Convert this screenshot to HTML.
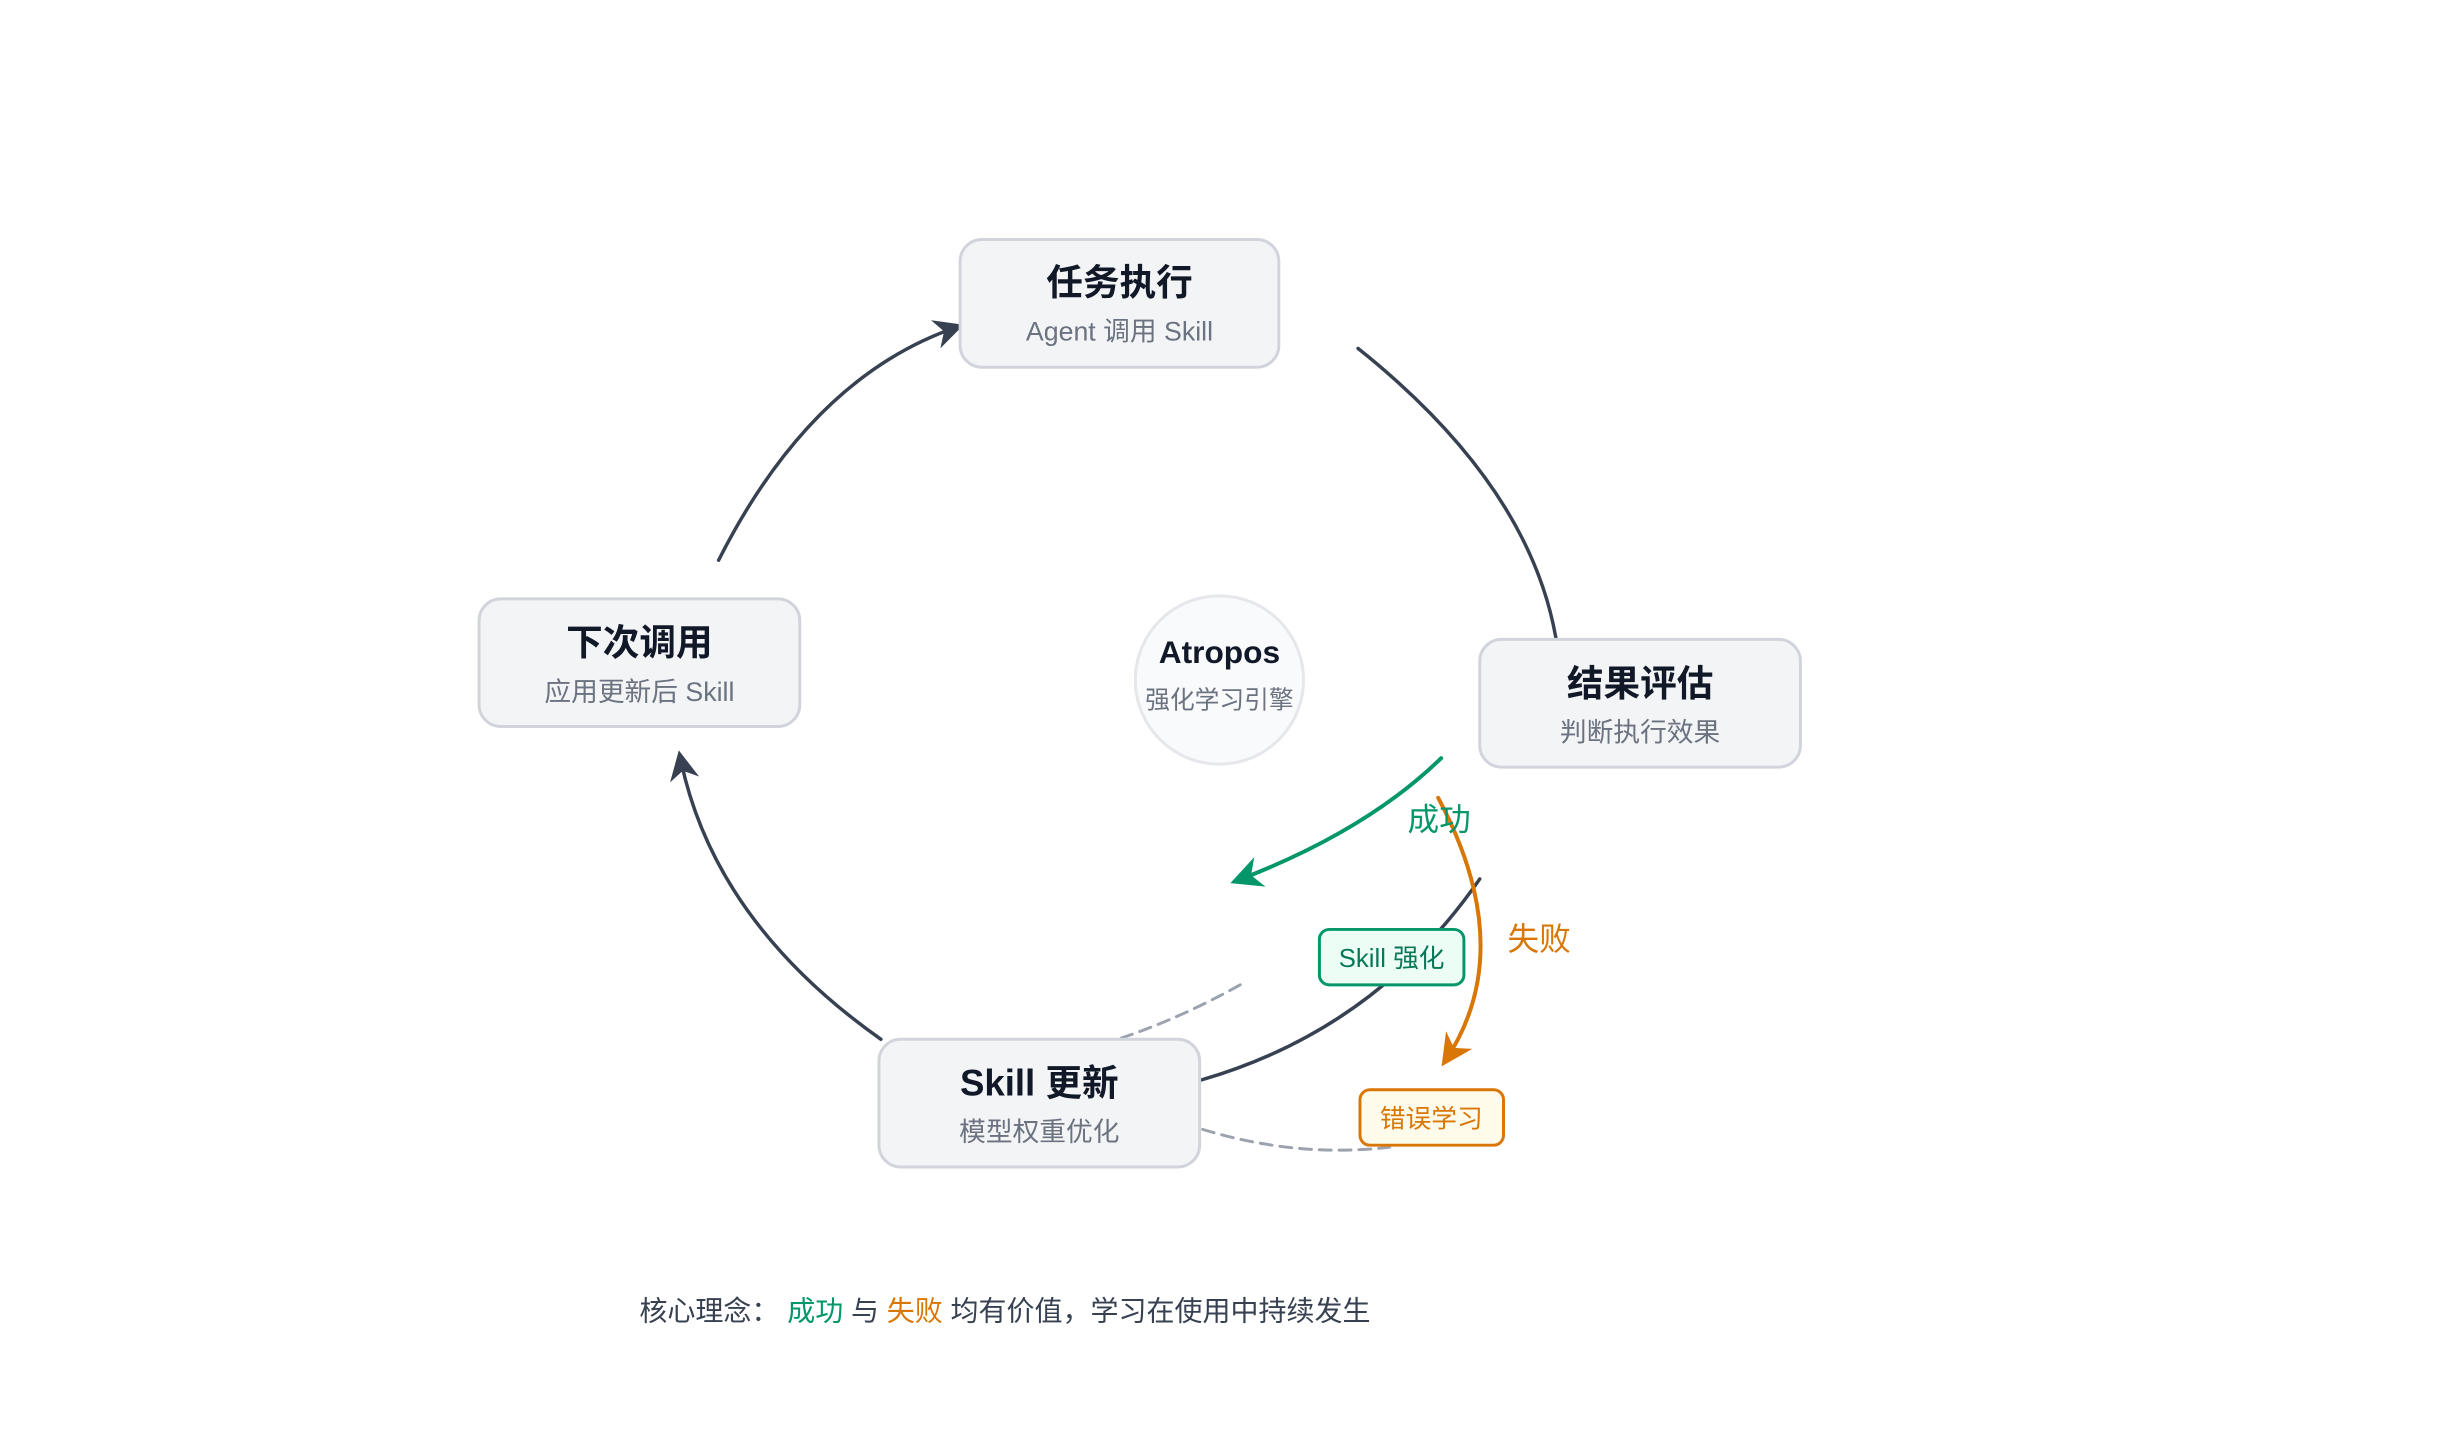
<!DOCTYPE html>
<html><head><meta charset="utf-8"><style>
html,body{margin:0;padding:0;background:#fff;}
svg{display:block;}
text{font-family:"Liberation Sans","Noto Sans CJK SC",sans-serif;}
</style></head><body>
<svg width="2440" height="1440" viewBox="0 0 2440 1440" xmlns="http://www.w3.org/2000/svg">
<defs>
<marker id="ad" markerWidth="30" markerHeight="30" refX="8" refY="5" orient="auto" markerUnits="userSpaceOnUse" viewBox="0 0 10 10"><path d="M0,0 L10,5 L0,10 L3,5 z" fill="#374151"/></marker>
<marker id="ag" markerWidth="32" markerHeight="32" refX="8" refY="5" orient="auto" markerUnits="userSpaceOnUse" viewBox="0 0 10 10"><path d="M0,0 L10,5 L0,10 L3,5 z" fill="#059669"/></marker>
<marker id="ao" markerWidth="32" markerHeight="32" refX="8" refY="5" orient="auto" markerUnits="userSpaceOnUse" viewBox="0 0 10 10"><path d="M0,0 L10,5 L0,10 L3,5 z" fill="#d97706"/></marker>
</defs>
<g transform="scale(0.9898)">
<g fill="none" stroke-width="3.5" stroke-linecap="round">
<path d="M726,566 Q820,380 968,330" stroke="#374151" marker-end="url(#ad)"/>
<path d="M1372,352 Q1545,490 1572,645" stroke="#374151"/>
<path d="M890,1050 Q720,930 687,764" stroke="#374151" marker-end="url(#ad)"/>
<path d="M1495,888 Q1390,1040 1214,1091" stroke="#374151"/>
<path d="M1253,995 Q1190,1030 1129,1050" stroke="#9ca3af" stroke-width="3" stroke-dasharray="12,8"/>
<path d="M1215,1141 Q1310,1170 1404,1159" stroke="#9ca3af" stroke-width="3" stroke-dasharray="12,8"/>
<path d="M1456,766 Q1380,840 1249,890" stroke="#059669" stroke-width="4" marker-end="url(#ag)"/>
<path d="M1453,806 Q1535,960 1460,1072" stroke="#d97706" stroke-width="4" marker-end="url(#ao)"/>
</g>
<g stroke="#d1d5db" stroke-width="3" fill="#f3f4f6">
<rect x="970" y="242" width="322" height="129" rx="22"/>
<rect x="484" y="605" width="324" height="129" rx="22"/>
<rect x="1495" y="646" width="324" height="129" rx="22"/>
<rect x="888" y="1050" width="324" height="129" rx="22"/>
</g>
<circle cx="1232" cy="687" r="85" fill="#f9fafb" stroke="#e5e7eb" stroke-width="3"/>
<g text-anchor="middle">
<text x="1131" y="298" font-size="37" font-weight="bold" fill="#111827">任务执行</text>
<text x="1131" y="344" font-size="27" fill="#6b7280">Agent 调用 Skill</text>
<text x="646" y="662" font-size="37" font-weight="bold" fill="#111827">下次调用</text>
<text x="646" y="708" font-size="27" fill="#6b7280">应用更新后 Skill</text>
<text x="1657" y="703" font-size="37" font-weight="bold" fill="#111827">结果评估</text>
<text x="1657" y="749" font-size="27" fill="#6b7280">判断执行效果</text>
<text x="1050" y="1107" font-size="37" font-weight="bold" fill="#111827">Skill 更新</text>
<text x="1050" y="1153" font-size="27" fill="#6b7280">模型权重优化</text>
<text x="1232" y="670" font-size="32" font-weight="bold" fill="#111827">Atropos</text>
<text x="1232" y="716" font-size="25" fill="#6b7280">强化学习引擎</text>
</g>
<rect x="1333" y="939" width="146" height="56" rx="10" fill="#ecfdf5" stroke="#059669" stroke-width="3"/>
<text x="1406" y="977" text-anchor="middle" font-size="26" fill="#047857">Skill 强化</text>
<rect x="1374" y="1101" width="145" height="56" rx="10" fill="#fffbeb" stroke="#d97706" stroke-width="3"/>
<text x="1446" y="1139" text-anchor="middle" font-size="26" fill="#d97706">错误学习</text>
<text x="1454" y="839" text-anchor="middle" font-size="32" fill="#059669">成功</text>
<text x="1555" y="960" text-anchor="middle" font-size="32" fill="#d97706">失败</text>
<text x="646" y="1334" font-size="28.3" fill="#374151">核心理念： <tspan fill="#059669">成功</tspan> 与 <tspan fill="#d97706">失败</tspan> 均有价值，学习在使用中持续发生</text>
</g>
</svg>
</body></html>
